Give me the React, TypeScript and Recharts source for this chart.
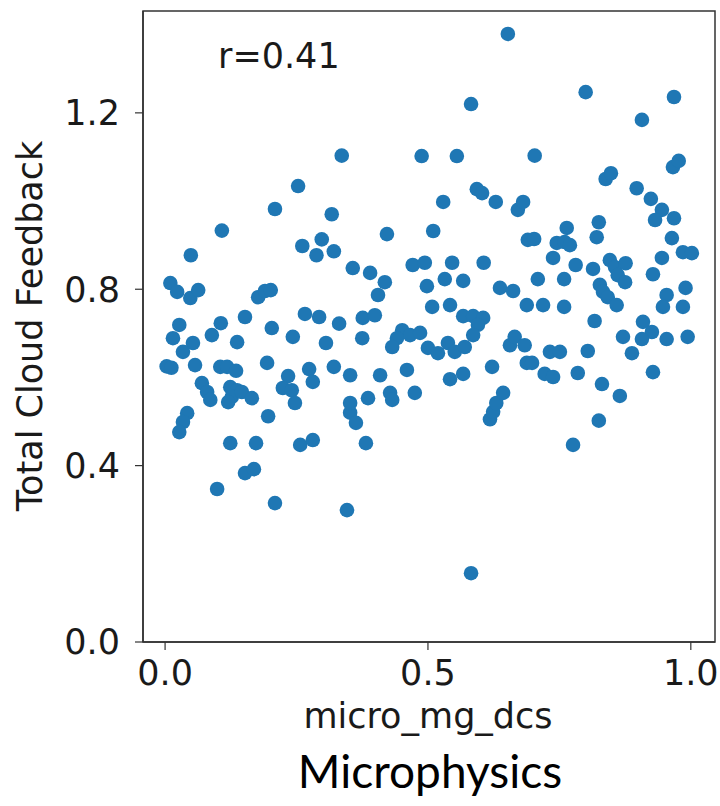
import { ReferenceArea, Scatter, ScatterChart, XAxis, YAxis } from 'recharts'

const microMgDcs = [
  0.336, 0.253, 0.209, 0.317, 0.108, 0.652, 0.582, 0.488, 0.555, 0.703,
  0.593, 0.603, 0.529, 0.629, 0.671, 0.681, 0.422, 0.510, 0.800, 0.968,
  0.907, 0.966, 0.977, 0.838, 0.848, 0.897, 0.924, 0.945, 0.968, 0.932,
  0.764, 0.825, 0.049, 0.261, 0.298, 0.288, 0.321, 0.010, 0.023, 0.048,
  0.063, 0.177, 0.190, 0.201, 0.152, 0.266, 0.293, 0.331, 0.027, 0.106,
  0.089, 0.015, 0.053, 0.034, 0.137, 0.203, 0.243, 0.306, 0.003, 0.012,
  0.057, 0.105, 0.118, 0.135, 0.194, 0.274, 0.281, 0.321, 0.234, 0.070,
  0.080, 0.086, 0.124, 0.137, 0.127, 0.146, 0.165, 0.120, 0.224, 0.241,
  0.247, 0.196, 0.042, 0.034, 0.027, 0.124, 0.173, 0.257, 0.281, 0.152,
  0.169, 0.099, 0.209, 0.346, 0.352, 0.363, 0.382, 0.582, 0.618, 0.624,
  0.630, 0.643, 0.825, 0.776, 0.690, 0.357, 0.390, 0.418, 0.405, 0.471,
  0.494, 0.546, 0.532, 0.567, 0.498, 0.606, 0.637, 0.662, 0.688, 0.508,
  0.542, 0.567, 0.586, 0.605, 0.595, 0.586, 0.376, 0.399, 0.375, 0.451,
  0.466, 0.485, 0.441, 0.432, 0.500, 0.519, 0.538, 0.551, 0.570, 0.656,
  0.665, 0.684, 0.688, 0.352, 0.409, 0.460, 0.542, 0.567, 0.622, 0.352,
  0.386, 0.428, 0.432, 0.475, 0.821, 0.964, 0.985, 1.002, 0.702, 0.745,
  0.760, 0.770, 0.738, 0.781, 0.814, 0.846, 0.856, 0.876, 0.861, 0.875,
  0.945, 0.928, 0.709, 0.759, 0.827, 0.833, 0.842, 0.859, 0.990, 0.954,
  0.947, 0.985, 0.719, 0.759, 0.817, 0.909, 0.926, 0.907, 0.871, 0.954,
  0.994, 0.888, 0.732, 0.751, 0.804, 0.698, 0.722, 0.738, 0.785, 0.928,
  0.831, 0.865,
]

const totalCloudFeedback = [
  1.103, 1.034, 0.982, 0.970, 0.933, 1.379, 1.220, 1.102, 1.102, 1.103,
  1.027, 1.018, 0.998, 0.998, 0.980, 0.998, 0.925, 0.932, 1.247, 1.236,
  1.184, 1.077, 1.091, 1.050, 1.063, 1.029, 1.005, 0.980, 0.961, 0.957,
  0.939, 0.952, 0.877, 0.898, 0.913, 0.877, 0.886, 0.814, 0.794, 0.780,
  0.798, 0.782, 0.796, 0.798, 0.737, 0.744, 0.737, 0.722, 0.719, 0.723,
  0.696, 0.689, 0.678, 0.658, 0.680, 0.712, 0.692, 0.678, 0.625, 0.622,
  0.628, 0.624, 0.624, 0.615, 0.633, 0.619, 0.590, 0.624, 0.603, 0.587,
  0.567, 0.549, 0.578, 0.571, 0.556, 0.567, 0.553, 0.544, 0.576, 0.571,
  0.542, 0.512, 0.519, 0.499, 0.476, 0.451, 0.451, 0.447, 0.458, 0.383,
  0.392, 0.347, 0.315, 0.299, 0.520, 0.497, 0.451, 0.156, 0.505, 0.522,
  0.542, 0.565, 0.502, 0.447, 0.912, 0.848, 0.837, 0.816, 0.787, 0.855,
  0.860, 0.860, 0.823, 0.819, 0.807, 0.860, 0.803, 0.796, 0.764, 0.760,
  0.764, 0.739, 0.739, 0.735, 0.719, 0.696, 0.735, 0.741, 0.689, 0.707,
  0.696, 0.701, 0.689, 0.669, 0.667, 0.655, 0.678, 0.658, 0.669, 0.673,
  0.692, 0.673, 0.633, 0.605, 0.605, 0.617, 0.596, 0.608, 0.624, 0.542,
  0.553, 0.565, 0.549, 0.565, 0.918, 0.916, 0.884, 0.882, 0.914, 0.905,
  0.907, 0.900, 0.871, 0.855, 0.846, 0.866, 0.850, 0.859, 0.832, 0.816,
  0.871, 0.834, 0.823, 0.823, 0.810, 0.794, 0.782, 0.764, 0.803, 0.787,
  0.760, 0.760, 0.764, 0.760, 0.728, 0.726, 0.703, 0.687, 0.692, 0.687,
  0.692, 0.655, 0.658, 0.658, 0.660, 0.633, 0.608, 0.601, 0.610, 0.612,
  0.585, 0.558,
]

const xTicks = [0, 0.5, 1.0]
const yTicks = [0, 0.4, 0.8, 1.2]

const points = microMgDcs.map((x, i) => ({ x, y: totalCloudFeedback[i] }))

const X_DOMAIN: [number, number] = [-0.042, 1.046]
const Y_DOMAIN: [number, number] = [0, 1.431]
const INK = '#1a1a1a'
const SPINE = '#333333'
const mpl = 'DejaVu Sans'

export default function App() {
  return (
    <div style={{ position: 'absolute', left: 0, top: 0, width: 720, height: 806, background: '#fff' }}>
      <ScatterChart width={720} height={806} margin={{ top: 11, right: 5, left: 0, bottom: 104 }}>
        <XAxis
          type="number"
          dataKey="x"
          domain={X_DOMAIN}
          ticks={xTicks}
          allowDataOverflow
          height={60}
          tickFormatter={(v: number) => v.toFixed(1)}
          tick={{ fill: INK, fontSize: 35, fontFamily: mpl }}
          tickSize={8}
          tickMargin={10}
          axisLine={{ stroke: SPINE, strokeWidth: 1.5 }}
          tickLine={{ stroke: SPINE, strokeWidth: 1.2 }}
        />
        <YAxis
          type="number"
          dataKey="y"
          domain={Y_DOMAIN}
          ticks={yTicks}
          allowDataOverflow
          width={143}
          tickFormatter={(v: number) => v.toFixed(1)}
          tick={{ fill: INK, fontSize: 35, fontFamily: mpl }}
          tickSize={8}
          tickMargin={15}
          axisLine={{ stroke: SPINE, strokeWidth: 1.5 }}
          tickLine={{ stroke: SPINE, strokeWidth: 1.2 }}
        />
        <ReferenceArea
          x1={X_DOMAIN[0]}
          x2={X_DOMAIN[1]}
          y1={Y_DOMAIN[0]}
          y2={Y_DOMAIN[1]}
          fill="none"
          stroke={SPINE}
          strokeWidth={1.5}
          ifOverflow="visible"
        />
        <Scatter data={points} fill="#1f77b4" isAnimationActive={false} shape={(p: any) => <circle cx={p.cx} cy={p.cy} r={7.3} fill="#1f77b4" />} />
      </ScatterChart>
      <svg width={720} height={806} style={{ position: 'absolute', left: 0, top: 0, pointerEvents: 'none' }}>
        <text x={218} y={68} fontFamily={mpl} fontSize={35} fill={INK}>r=0.41</text>
        <text
          transform="translate(42, 326) rotate(-90)"
          textAnchor="middle"
          fontFamily={mpl}
          fontSize={35}
          fill={INK}
        >
          Total Cloud Feedback
        </text>
        <text x={428} y={728} textAnchor="middle" fontFamily={mpl} fontSize={35} fill={INK}>micro_mg_dcs</text>
        <text x={430} y={788} textAnchor="middle" fontFamily="Lato" fontSize={46} fill="#000">Microphysics</text>
      </svg>
    </div>
  )
}
